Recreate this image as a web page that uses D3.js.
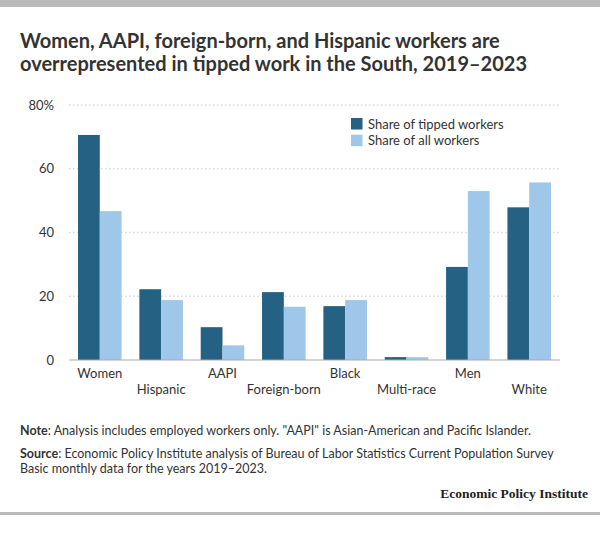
<!DOCTYPE html>
<html><head><meta charset="utf-8">
<script src="https://cdn.jsdelivr.net/npm/d3@7"></script>
<style>
html,body{margin:0;padding:0;background:#fff;}
svg{display:block;font-family:Lato, "Open Sans", sans-serif;}
</style></head>
<body>
<div id="chart"></div>
<script>
const categories = ["Women","Hispanic","AAPI","Foreign-born","Black","Multi-race","Men","White"];
const tippedShare = [70.6, 22.2, 10.3, 21.3, 16.9, 0.9, 29.2, 47.9];
const allShare = [46.7, 18.8, 4.6, 16.7, 18.8, 0.9, 53.0, 55.7];
const seriesNames = ["Share of tipped workers","Share of all workers"];
const yTicks = [0, 20, 40, 60, 80];
const colors = ["#246182", "#9fc7e9"];

const W = 600, H = 536;
const svg = d3.select("#chart").append("svg").attr("width", W).attr("height", H);

svg.append("rect").attr("x",0).attr("y",0).attr("width",W).attr("height",7).attr("fill","#bbbbbb");
svg.append("rect").attr("x",0).attr("y",512).attr("width",W).attr("height",3).attr("fill","#bbbbbb");

const title = svg.append("text").attr("x",20).attr("fill","#333").attr("font-weight","bold").attr("font-size","20px");
title.append("tspan").attr("x",20).attr("y",48).text("Women, AAPI, foreign-born, and Hispanic workers are");
title.append("tspan").attr("x",20).attr("y",71).text("overrepresented in tipped work in the South, 2019\u20132023");

const x0 = d3.scaleBand().domain(categories).range([69, 560]).paddingInner(0.29).paddingOuter(0.147);
const x1 = d3.scaleBand().domain([0,1]).range([0, x0.bandwidth()]);
const y = d3.scaleLinear().domain([0, 80]).range([360, 105]);

// grid
svg.append("g").selectAll("line").data(yTicks.filter(d => d > 0)).join("line")
  .attr("x1", 69).attr("x2", 560).attr("y1", d => y(d)).attr("y2", d => y(d))
  .attr("stroke", "#d9d9d9").attr("stroke-width", 1.5).attr("stroke-dasharray", "1.5,2.5");

// y axis
const yAxis = d3.axisLeft(y).tickValues(yTicks).tickSize(0).tickPadding(0)
  .tickFormat(d => d === 80 ? "80%" : d);
const ya = svg.append("g").attr("transform", "translate(54,0)").call(yAxis);
ya.select(".domain").remove();
ya.selectAll("text").attr("font-size","13px").attr("fill","#333").attr("font-family","Lato, sans-serif");

// bars
const data = categories.map((c, i) => ({c, v: [tippedShare[i], allShare[i]]}));
const g = svg.append("g").selectAll("g").data(data).join("g").attr("transform", d => `translate(${x0(d.c)},0)`);
g.selectAll("rect").data(d => d.v.map((v, k) => ({v, k}))).join("rect")
  .attr("x", d => x1(d.k)).attr("width", x1.bandwidth())
  .attr("y", d => y(d.v)).attr("height", d => y(0) - y(d.v))
  .attr("fill", d => colors[d.k]);

// baseline
svg.append("line").attr("x1",69).attr("x2",560).attr("y1",y(0)).attr("y2",y(0)).attr("stroke","#aaa").attr("stroke-width",1);

// x labels
const xAxis = d3.axisBottom(x0).tickSize(0).tickPadding(0);
const xa = svg.append("g").attr("transform", `translate(0,${y(0)})`).call(xAxis);
xa.select(".domain").remove();
xa.selectAll("text").attr("font-size","13px").attr("fill","#333").attr("font-family","Lato, sans-serif")
  .attr("dy", null).attr("y", (d, i) => i % 2 === 0 ? 18 : 34);

// legend
const lg = svg.append("g").attr("transform","translate(351,118)");
seriesNames.forEach((n, i) => {
  lg.append("rect").attr("x",0).attr("y", i*16.7).attr("width",11.5).attr("height",11.5).attr("fill",colors[i]);
  lg.append("text").attr("x",17).attr("y", i*16.7 + 10.5).attr("font-size","13px").attr("fill","#333").text(n);
});

// notes
const notes = svg.append("g").attr("fill","#333").attr("font-size","12.5px");
const n1 = notes.append("text").attr("x",20).attr("y",434.5);
n1.append("tspan").attr("font-weight","bold").text("Note");
n1.append("tspan").text(": Analysis includes employed workers only. \"AAPI\" is Asian-American and Pacific Islander.");
const n2 = notes.append("text").attr("x",20).attr("y",457.5);
n2.append("tspan").attr("font-weight","bold").text("Source");
n2.append("tspan").text(": Economic Policy Institute analysis of Bureau of Labor Statistics Current Population Survey");
notes.append("text").attr("x",20).attr("y",472.5).text("Basic monthly data for the years 2019\u20132023.");

svg.append("text").attr("x",588).attr("y",498).attr("text-anchor","end")
  .attr("font-family","'Liberation Serif', 'DejaVu Serif', serif").attr("font-weight","bold").attr("font-size","13.5px")
  .attr("fill","#222").text("Economic Policy Institute");
</script>
</body></html>
